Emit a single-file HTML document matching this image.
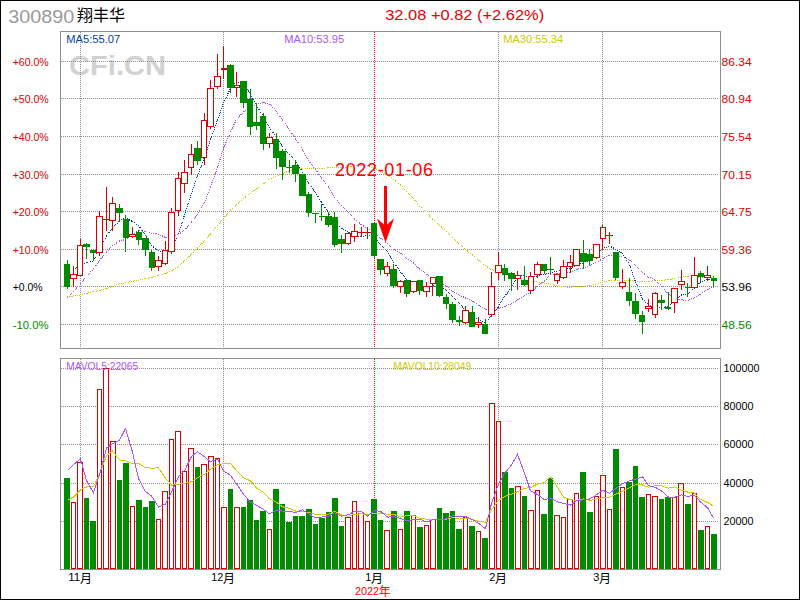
<!DOCTYPE html>
<html><head><meta charset="utf-8"><title>chart</title><style>html,body{margin:0;padding:0;background:#fff}body{width:800px;height:600px;overflow:hidden;font-family:"Liberation Sans",sans-serif}svg text{font-family:"Liberation Sans","Noto Sans CJK SC",sans-serif}</style></head><body>
<svg width="800" height="600" viewBox="0 0 800 600" style="display:block">
<rect width="800" height="600" fill="#fff"/>
<g shape-rendering="crispEdges">
<rect x="0.5" y="0.5" width="799" height="599" fill="none" stroke="#000"/>
</g>
<text x="69" y="75" font-size="28" font-weight="bold" fill="#d2d2d2" textLength="97" lengthAdjust="spacingAndGlyphs">CFi.CN</text>
<g shape-rendering="crispEdges">
<line x1="61" y1="61.5" x2="719" y2="61.5" stroke="#909090" stroke-dasharray="1 1"/>
<line x1="61" y1="98.5" x2="719" y2="98.5" stroke="#909090" stroke-dasharray="1 1"/>
<line x1="61" y1="136.5" x2="719" y2="136.5" stroke="#909090" stroke-dasharray="1 1"/>
<line x1="61" y1="174.5" x2="719" y2="174.5" stroke="#909090" stroke-dasharray="1 1"/>
<line x1="61" y1="211.5" x2="719" y2="211.5" stroke="#909090" stroke-dasharray="1 1"/>
<line x1="61" y1="249.5" x2="719" y2="249.5" stroke="#909090" stroke-dasharray="1 1"/>
<line x1="61" y1="286.5" x2="719" y2="286.5" stroke="#909090" stroke-dasharray="1 1"/>
<line x1="61" y1="324.5" x2="719" y2="324.5" stroke="#909090" stroke-dasharray="1 1"/>
<line x1="61" y1="368.5" x2="719" y2="368.5" stroke="#909090" stroke-dasharray="1 1"/>
<line x1="61" y1="406.5" x2="719" y2="406.5" stroke="#909090" stroke-dasharray="1 1"/>
<line x1="61" y1="444.5" x2="719" y2="444.5" stroke="#909090" stroke-dasharray="1 1"/>
<line x1="61" y1="483.5" x2="719" y2="483.5" stroke="#909090" stroke-dasharray="1 1"/>
<line x1="61" y1="521.5" x2="719" y2="521.5" stroke="#909090" stroke-dasharray="1 1"/>
<line x1="80.5" y1="32" x2="80.5" y2="348" stroke="#909090" stroke-dasharray="1 1"/>
<line x1="80.5" y1="359" x2="80.5" y2="569" stroke="#909090" stroke-dasharray="1 1"/>
<line x1="223.5" y1="32" x2="223.5" y2="348" stroke="#909090" stroke-dasharray="1 1"/>
<line x1="223.5" y1="359" x2="223.5" y2="569" stroke="#909090" stroke-dasharray="1 1"/>
<line x1="498.5" y1="32" x2="498.5" y2="348" stroke="#909090" stroke-dasharray="1 1"/>
<line x1="498.5" y1="359" x2="498.5" y2="569" stroke="#909090" stroke-dasharray="1 1"/>
<line x1="602.5" y1="32" x2="602.5" y2="348" stroke="#909090" stroke-dasharray="1 1"/>
<line x1="602.5" y1="359" x2="602.5" y2="569" stroke="#909090" stroke-dasharray="1 1"/>
<line x1="374.5" y1="32" x2="374.5" y2="348" stroke="#ff0000" stroke-dasharray="1 1"/>
<line x1="374.5" y1="359" x2="374.5" y2="569" stroke="#ff0000" stroke-dasharray="1 1"/>
<rect x="60.5" y="31.5" width="660" height="317" fill="none" stroke="#909090"/>
<rect x="60.5" y="358.5" width="660" height="211" fill="none" stroke="#909090"/>
<path d="M67.5 296.8L73.5 295.9M73.5 295.9L80.5 294.9M80.5 294.9L86.5 293.3M86.5 293.3L93.5 291.6M93.5 291.6L99.5 290.4M99.5 290.4L106.5 288.6M106.5 288.6L112.5 286.2M112.5 286.2L119.5 283.9M119.5 283.9L125.5 282.6M125.5 282.6L132.5 281.2M132.5 281.2L138.5 280.1M138.5 280.1L145.5 278.6M145.5 278.6L151.5 277.4M151.5 277.4L158.5 275.7M158.5 275.7L165.5 273.6M165.5 273.6L171.5 270.6M171.5 270.6L178.5 266.4M178.5 266.4L184.5 261.0M184.5 261.0L191.5 254.0M191.5 254.0L197.5 248.0M197.5 248.0L204.5 241.0M204.5 241.0L210.5 233.9M210.5 233.9L217.5 225.5M217.5 225.5L223.5 218.3M223.5 218.3L230.5 210.1M230.5 210.1L236.5 204.7M236.5 204.7L243.5 198.5M243.5 198.5L250.5 193.2M250.5 193.2L256.5 188.6M256.5 188.6L263.5 183.8M263.5 183.8L269.5 179.2M269.5 179.2L276.5 176.3M276.5 176.3L282.5 173.6M282.5 173.6L289.5 170.8M289.5 170.8L295.5 169.4M295.5 169.4L302.5 168.6M302.5 168.6L308.5 168.9M308.5 168.9L315.5 168.9M315.5 168.9L321.5 168.2M321.5 168.2L328.5 167.9M328.5 167.9L334.5 168.0M334.5 168.0L341.5 167.8M341.5 167.8L348.5 166.7M348.5 166.7L354.5 165.7M354.5 165.7L361.5 165.1M361.5 165.1L367.5 165.8M367.5 165.8L374.5 168.4M374.5 168.4L380.5 171.6M380.5 171.6L387.5 175.3M387.5 175.3L393.5 179.5M393.5 179.5L400.5 184.9M400.5 184.9L406.5 191.7M406.5 191.7L413.5 198.5M413.5 198.5L419.5 205.9M419.5 205.9L426.5 212.6M426.5 212.6L432.5 219.0M432.5 219.0L439.5 225.4M439.5 225.4L446.5 231.3M446.5 231.3L452.5 237.8M452.5 237.8L459.5 243.7M459.5 243.7L465.5 249.5M465.5 249.5L472.5 255.1M472.5 255.1L478.5 260.3M478.5 260.3L485.5 265.8M485.5 265.8L491.5 269.6M491.5 269.6L498.5 271.9M498.5 271.9L504.5 274.0M504.5 274.0L511.5 276.2M511.5 276.2L517.5 278.1M517.5 278.1L524.5 280.1M524.5 280.1L530.5 281.2M530.5 281.2L537.5 281.9M537.5 281.9L544.5 283.1M544.5 283.1L550.5 284.4M550.5 284.4L557.5 285.8M557.5 285.8L563.5 286.9M563.5 286.9L570.5 287.2M570.5 287.2L576.5 286.5M576.5 286.5L583.5 286.3M583.5 286.3L589.5 285.5M589.5 285.5L596.5 284.3M596.5 284.3L602.5 282.1M602.5 282.1L609.5 280.5M609.5 280.5L615.5 280.1M615.5 280.1L622.5 280.0M622.5 280.0L629.5 280.7M629.5 280.7L635.5 281.3M635.5 281.3L642.5 281.9M642.5 281.9L648.5 281.5M648.5 281.5L655.5 280.6M655.5 280.6L661.5 280.3M661.5 280.3L668.5 279.7M668.5 279.7L674.5 278.6M674.5 278.6L681.5 276.8M681.5 276.8L687.5 276.9M687.5 276.9L694.5 277.2M694.5 277.2L700.5 277.3M700.5 277.3L707.5 277.2M707.5 277.2L713.5 277.3" stroke="#cccc00" fill="none" stroke-dasharray="1 1"/>
<path d="M67.5 298.0L73.5 291.5M73.5 291.5L80.5 283.5M80.5 283.5L86.5 276.5M86.5 276.5L93.5 269.0M93.5 269.0L99.5 260.5M99.5 260.5L106.5 252.0M106.5 252.0L112.5 245.5M112.5 245.5L119.5 241.0M119.5 241.0L125.5 239.5M125.5 239.5L132.5 234.3M132.5 234.3L138.5 230.8M138.5 230.8L145.5 231.2M145.5 231.2L151.5 233.3M151.5 233.3L158.5 234.1M158.5 234.1L165.5 237.5M165.5 237.5L171.5 236.8M171.5 236.8L178.5 234.3M178.5 234.3L184.5 230.3M184.5 230.3L191.5 222.0M191.5 222.0L197.5 214.6M197.5 214.6L204.5 202.7M204.5 202.7L210.5 186.6M210.5 186.6L217.5 167.5M217.5 167.5L223.5 148.3M223.5 148.3L230.5 132.0M230.5 132.0L236.5 119.3M236.5 119.3L243.5 111.7M243.5 111.7L250.5 107.1M250.5 107.1L256.5 104.2M256.5 104.2L263.5 102.5M263.5 102.5L269.5 104.2M269.5 104.2L276.5 111.1M276.5 111.1L282.5 120.1M282.5 120.1L289.5 130.0M289.5 130.0L295.5 138.6M295.5 138.6L302.5 149.6M302.5 149.6L308.5 160.6M308.5 160.6L315.5 169.3M315.5 169.3L321.5 178.4M321.5 178.4L328.5 186.5M328.5 186.5L334.5 197.2M334.5 197.2L341.5 205.8M341.5 205.8L348.5 212.5M348.5 212.5L354.5 218.9M354.5 218.9L361.5 224.8M361.5 224.8L367.5 228.5M367.5 228.5L374.5 232.8M374.5 232.8L380.5 238.4M380.5 238.4L387.5 243.4M387.5 243.4L393.5 249.5M393.5 249.5L400.5 253.2M400.5 253.2L406.5 258.2M406.5 258.2L413.5 263.0M413.5 263.0L419.5 268.9M419.5 268.9L426.5 274.3M426.5 274.3L432.5 278.8M432.5 278.8L439.5 282.8M439.5 282.8L446.5 286.2M446.5 286.2L452.5 291.5M452.5 291.5L459.5 295.1M459.5 295.1L465.5 298.0M465.5 298.0L472.5 301.3M472.5 301.3L478.5 305.4M478.5 305.4L485.5 309.7M485.5 309.7L491.5 309.7M491.5 309.7L498.5 308.5M498.5 308.5L504.5 306.4M504.5 306.4L511.5 303.9M511.5 303.9L517.5 299.5M517.5 299.5L524.5 295.8M524.5 295.8L530.5 292.4M530.5 292.4L537.5 286.2M537.5 286.2L544.5 281.0M544.5 281.0L550.5 274.6M550.5 274.6L557.5 273.4M557.5 273.4L563.5 273.5M563.5 273.5L570.5 272.3M570.5 272.3L576.5 269.4M576.5 269.4L583.5 268.0M583.5 268.0L589.5 265.6M589.5 265.6L596.5 262.4M596.5 262.4L602.5 258.7M602.5 258.7L609.5 255.2M609.5 255.2L615.5 256.0M615.5 256.0L622.5 256.8M622.5 256.8L629.5 260.2M629.5 260.2L635.5 265.3M635.5 265.3L642.5 272.5M642.5 272.5L648.5 277.0M648.5 277.0L655.5 280.3M655.5 280.3L661.5 286.1M661.5 286.1L668.5 294.2M668.5 294.2L674.5 299.5M674.5 299.5L681.5 299.9M681.5 299.9L687.5 300.4M687.5 300.4L694.5 297.9M694.5 297.9L700.5 294.2M700.5 294.2L707.5 289.6M707.5 289.6L713.5 287.0" stroke="#aa55ff" fill="none" stroke-dasharray="1 1"/>
<path d="M73.5 270.5L80.5 264.5M80.5 264.5L86.5 262.5M86.5 262.5L93.5 261.1M93.5 261.1L99.5 247.1M99.5 247.1L106.5 236.1M106.5 236.1L112.5 227.7M112.5 227.7L119.5 220.9M119.5 220.9L125.5 217.9M125.5 217.9L132.5 221.5M132.5 221.5L138.5 225.5M138.5 225.5L145.5 234.7M145.5 234.7L151.5 245.7M151.5 245.7L158.5 250.3M158.5 250.3L165.5 253.5M165.5 253.5L171.5 248.1M171.5 248.1L178.5 233.9M178.5 233.9L184.5 214.9M184.5 214.9L191.5 193.7M191.5 193.7L197.5 175.7M197.5 175.7L204.5 157.3M204.5 157.3L210.5 139.3M210.5 139.3L217.5 120.1M217.5 120.1L223.5 102.9M223.5 102.9L230.5 88.3M230.5 88.3L236.5 81.3M236.5 81.3L243.5 84.1M243.5 84.1L250.5 94.1M250.5 94.1L256.5 105.5M256.5 105.5L263.5 116.7M263.5 116.7L269.5 127.1M269.5 127.1L276.5 138.1M276.5 138.1L282.5 146.1M282.5 146.1L289.5 154.5M289.5 154.5L295.5 160.5M295.5 160.5L302.5 172.1M302.5 172.1L308.5 183.1M308.5 183.1L315.5 192.5M315.5 192.5L321.5 202.3M321.5 202.3L328.5 212.5M328.5 212.5L334.5 222.3M334.5 222.3L341.5 228.5M341.5 228.5L348.5 232.5M348.5 232.5L354.5 235.5M354.5 235.5L361.5 237.1M361.5 237.1L367.5 234.7M367.5 234.7L374.5 237.1M374.5 237.1L380.5 244.3M380.5 244.3L387.5 251.3M387.5 251.3L393.5 261.9M393.5 261.9L400.5 271.7M400.5 271.7L406.5 279.3M406.5 279.3L413.5 281.7M413.5 281.7L419.5 286.5M419.5 286.5L426.5 286.7M426.5 286.7L432.5 285.9M432.5 285.9L439.5 286.3M439.5 286.3L446.5 290.7M446.5 290.7L452.5 296.5M452.5 296.5L459.5 303.5M459.5 303.5L465.5 310.1M465.5 310.1L472.5 316.3M472.5 316.3L478.5 320.1M478.5 320.1L485.5 322.9M485.5 322.9L491.5 315.9M491.5 315.9L498.5 306.9M498.5 306.9L504.5 296.5M504.5 296.5L511.5 287.7M511.5 287.7L517.5 276.1M517.5 276.1L524.5 275.7M524.5 275.7L530.5 277.9M530.5 277.9L537.5 275.9M537.5 275.9L544.5 274.3M544.5 274.3L550.5 273.1M550.5 273.1L557.5 271.1M557.5 271.1L563.5 269.1M563.5 269.1L570.5 268.7M570.5 268.7L576.5 264.5M576.5 264.5L583.5 262.9M583.5 262.9L589.5 260.1M589.5 260.1L596.5 255.7M596.5 255.7L602.5 248.7M602.5 248.7L609.5 245.9M609.5 245.9L615.5 249.1M615.5 249.1L622.5 253.5M622.5 253.5L629.5 264.7M629.5 264.7L635.5 281.9M635.5 281.9L642.5 299.1M642.5 299.1L648.5 304.9M648.5 304.9L655.5 307.1M655.5 307.1L661.5 307.5M661.5 307.5L668.5 306.5M668.5 306.5L674.5 299.9M674.5 299.9L681.5 294.9M681.5 294.9L687.5 293.7M687.5 293.7L694.5 288.3M694.5 288.3L700.5 281.9M700.5 281.9L707.5 279.3M707.5 279.3L713.5 279.1" stroke="#0044a0" fill="none" stroke-dasharray="1 1"/>
<rect x="67" y="260" width="1" height="29" fill="#008a00"/>
<rect x="64" y="264" width="6" height="23" fill="#008a00"/>
<rect x="73" y="266" width="1" height="8" fill="#d80000"/>
<rect x="73" y="279" width="1" height="8" fill="#d80000"/>
<rect x="70" y="274" width="7" height="5" fill="#d80000"/>
<rect x="71" y="275" width="5" height="3" fill="#fff"/>
<rect x="80" y="239" width="1" height="6" fill="#d80000"/>
<rect x="77" y="245" width="6" height="31" fill="#d80000"/>
<rect x="78" y="246" width="4" height="29" fill="#fff"/>
<rect x="86" y="243" width="1" height="16" fill="#008a00"/>
<rect x="83" y="244" width="7" height="3" fill="#008a00"/>
<rect x="93" y="250" width="1" height="11" fill="#008a00"/>
<rect x="90" y="250" width="6" height="3" fill="#008a00"/>
<rect x="99" y="211" width="1" height="5" fill="#d80000"/>
<rect x="99" y="253" width="1" height="3" fill="#d80000"/>
<rect x="96" y="216" width="7" height="37" fill="#d80000"/>
<rect x="97" y="217" width="5" height="35" fill="#fff"/>
<rect x="106" y="187" width="1" height="32" fill="#d80000"/>
<rect x="106" y="220" width="1" height="11" fill="#d80000"/>
<rect x="103" y="219" width="6" height="1" fill="#d80000"/>
<rect x="112" y="197" width="1" height="6" fill="#d80000"/>
<rect x="112" y="221" width="1" height="10" fill="#d80000"/>
<rect x="109" y="203" width="7" height="18" fill="#d80000"/>
<rect x="110" y="204" width="5" height="16" fill="#fff"/>
<rect x="119" y="204" width="1" height="18" fill="#008a00"/>
<rect x="116" y="208" width="7" height="5" fill="#008a00"/>
<rect x="125" y="215" width="1" height="37" fill="#008a00"/>
<rect x="123" y="219" width="6" height="19" fill="#008a00"/>
<rect x="132" y="227" width="1" height="7" fill="#d80000"/>
<rect x="132" y="237" width="1" height="1" fill="#d80000"/>
<rect x="129" y="234" width="7" height="3" fill="#d80000"/>
<rect x="130" y="235" width="5" height="1" fill="#fff"/>
<rect x="138" y="230" width="1" height="15" fill="#008a00"/>
<rect x="136" y="232" width="6" height="8" fill="#008a00"/>
<rect x="145" y="238" width="1" height="18" fill="#008a00"/>
<rect x="142" y="238" width="7" height="12" fill="#008a00"/>
<rect x="151" y="250" width="1" height="21" fill="#008a00"/>
<rect x="149" y="252" width="6" height="16" fill="#008a00"/>
<rect x="158" y="256" width="1" height="4" fill="#d80000"/>
<rect x="158" y="267" width="1" height="4" fill="#d80000"/>
<rect x="155" y="260" width="7" height="7" fill="#d80000"/>
<rect x="156" y="261" width="5" height="5" fill="#fff"/>
<rect x="165" y="241" width="1" height="9" fill="#d80000"/>
<rect x="165" y="264" width="1" height="1" fill="#d80000"/>
<rect x="162" y="250" width="6" height="14" fill="#d80000"/>
<rect x="163" y="251" width="4" height="12" fill="#fff"/>
<rect x="171" y="208" width="1" height="4" fill="#d80000"/>
<rect x="171" y="252" width="1" height="2" fill="#d80000"/>
<rect x="168" y="212" width="7" height="40" fill="#d80000"/>
<rect x="169" y="213" width="5" height="38" fill="#fff"/>
<rect x="178" y="172" width="1" height="6" fill="#d80000"/>
<rect x="178" y="211" width="1" height="5" fill="#d80000"/>
<rect x="175" y="178" width="6" height="33" fill="#d80000"/>
<rect x="176" y="179" width="4" height="31" fill="#fff"/>
<rect x="184" y="160" width="1" height="12" fill="#d80000"/>
<rect x="184" y="184" width="1" height="9" fill="#d80000"/>
<rect x="181" y="172" width="7" height="12" fill="#d80000"/>
<rect x="182" y="173" width="5" height="10" fill="#fff"/>
<rect x="191" y="144" width="1" height="10" fill="#d80000"/>
<rect x="191" y="168" width="1" height="7" fill="#d80000"/>
<rect x="188" y="154" width="6" height="14" fill="#d80000"/>
<rect x="189" y="155" width="4" height="12" fill="#fff"/>
<rect x="197" y="141" width="1" height="24" fill="#008a00"/>
<rect x="194" y="148" width="7" height="13" fill="#008a00"/>
<rect x="204" y="113" width="1" height="7" fill="#d80000"/>
<rect x="204" y="158" width="1" height="7" fill="#d80000"/>
<rect x="201" y="120" width="6" height="38" fill="#d80000"/>
<rect x="202" y="121" width="4" height="36" fill="#fff"/>
<rect x="210" y="80" width="1" height="8" fill="#d80000"/>
<rect x="210" y="127" width="1" height="2" fill="#d80000"/>
<rect x="207" y="88" width="7" height="39" fill="#d80000"/>
<rect x="208" y="89" width="5" height="37" fill="#fff"/>
<rect x="217" y="54" width="1" height="22" fill="#d80000"/>
<rect x="217" y="87" width="1" height="2" fill="#d80000"/>
<rect x="214" y="76" width="7" height="11" fill="#d80000"/>
<rect x="215" y="77" width="5" height="9" fill="#fff"/>
<rect x="223" y="46" width="1" height="22" fill="#d80000"/>
<rect x="223" y="70" width="1" height="9" fill="#d80000"/>
<rect x="221" y="68" width="6" height="2" fill="#d80000"/>
<rect x="230" y="64" width="1" height="29" fill="#008a00"/>
<rect x="227" y="65" width="7" height="23" fill="#008a00"/>
<rect x="236" y="72" width="1" height="13" fill="#d80000"/>
<rect x="236" y="88" width="1" height="9" fill="#d80000"/>
<rect x="234" y="85" width="6" height="3" fill="#d80000"/>
<rect x="235" y="86" width="4" height="1" fill="#fff"/>
<rect x="243" y="81" width="1" height="27" fill="#008a00"/>
<rect x="240" y="81" width="7" height="22" fill="#008a00"/>
<rect x="250" y="89" width="1" height="46" fill="#008a00"/>
<rect x="247" y="99" width="6" height="28" fill="#008a00"/>
<rect x="256" y="103" width="1" height="27" fill="#008a00"/>
<rect x="253" y="122" width="7" height="4" fill="#008a00"/>
<rect x="263" y="113" width="1" height="37" fill="#008a00"/>
<rect x="260" y="116" width="6" height="28" fill="#008a00"/>
<rect x="269" y="133" width="1" height="4" fill="#d80000"/>
<rect x="269" y="144" width="1" height="4" fill="#d80000"/>
<rect x="266" y="137" width="7" height="7" fill="#d80000"/>
<rect x="267" y="138" width="5" height="5" fill="#fff"/>
<rect x="276" y="133" width="1" height="36" fill="#008a00"/>
<rect x="273" y="139" width="6" height="19" fill="#008a00"/>
<rect x="282" y="149" width="1" height="31" fill="#008a00"/>
<rect x="279" y="151" width="7" height="16" fill="#008a00"/>
<rect x="289" y="160" width="1" height="13" fill="#008a00"/>
<rect x="286" y="167" width="6" height="1" fill="#008a00"/>
<rect x="295" y="160" width="1" height="22" fill="#008a00"/>
<rect x="292" y="165" width="7" height="9" fill="#008a00"/>
<rect x="302" y="174" width="1" height="22" fill="#008a00"/>
<rect x="299" y="174" width="7" height="22" fill="#008a00"/>
<rect x="308" y="192" width="1" height="25" fill="#008a00"/>
<rect x="306" y="194" width="6" height="19" fill="#008a00"/>
<rect x="315" y="213" width="1" height="10" fill="#008a00"/>
<rect x="312" y="213" width="7" height="1" fill="#008a00"/>
<rect x="321" y="204" width="1" height="17" fill="#008a00"/>
<rect x="319" y="216" width="6" height="1" fill="#008a00"/>
<rect x="328" y="212" width="1" height="15" fill="#008a00"/>
<rect x="325" y="216" width="7" height="9" fill="#008a00"/>
<rect x="334" y="212" width="1" height="35" fill="#008a00"/>
<rect x="332" y="217" width="6" height="28" fill="#008a00"/>
<rect x="341" y="235" width="1" height="18" fill="#008a00"/>
<rect x="338" y="239" width="7" height="5" fill="#008a00"/>
<rect x="348" y="244" width="1" height="1" fill="#d80000"/>
<rect x="345" y="233" width="6" height="11" fill="#d80000"/>
<rect x="346" y="234" width="4" height="9" fill="#fff"/>
<rect x="354" y="224" width="1" height="7" fill="#d80000"/>
<rect x="354" y="237" width="1" height="5" fill="#d80000"/>
<rect x="351" y="231" width="7" height="6" fill="#d80000"/>
<rect x="352" y="232" width="5" height="4" fill="#fff"/>
<rect x="361" y="227" width="1" height="5" fill="#d80000"/>
<rect x="361" y="233" width="1" height="4" fill="#d80000"/>
<rect x="358" y="232" width="6" height="1" fill="#d80000"/>
<rect x="367" y="227" width="1" height="5" fill="#d80000"/>
<rect x="367" y="233" width="1" height="6" fill="#d80000"/>
<rect x="364" y="232" width="7" height="1" fill="#d80000"/>
<rect x="374" y="223" width="1" height="35" fill="#008a00"/>
<rect x="371" y="223" width="6" height="33" fill="#008a00"/>
<rect x="380" y="259" width="1" height="16" fill="#008a00"/>
<rect x="377" y="259" width="7" height="11" fill="#008a00"/>
<rect x="387" y="262" width="1" height="4" fill="#d80000"/>
<rect x="387" y="274" width="1" height="2" fill="#d80000"/>
<rect x="384" y="266" width="6" height="8" fill="#d80000"/>
<rect x="385" y="267" width="4" height="6" fill="#fff"/>
<rect x="393" y="264" width="1" height="24" fill="#008a00"/>
<rect x="390" y="269" width="7" height="17" fill="#008a00"/>
<rect x="400" y="280" width="1" height="1" fill="#d80000"/>
<rect x="400" y="287" width="1" height="6" fill="#d80000"/>
<rect x="397" y="281" width="7" height="6" fill="#d80000"/>
<rect x="398" y="282" width="5" height="4" fill="#fff"/>
<rect x="406" y="280" width="1" height="17" fill="#008a00"/>
<rect x="404" y="280" width="6" height="14" fill="#008a00"/>
<rect x="413" y="292" width="1" height="1" fill="#d80000"/>
<rect x="410" y="281" width="7" height="11" fill="#d80000"/>
<rect x="411" y="282" width="5" height="9" fill="#fff"/>
<rect x="419" y="280" width="1" height="15" fill="#008a00"/>
<rect x="417" y="280" width="6" height="11" fill="#008a00"/>
<rect x="426" y="282" width="1" height="4" fill="#d80000"/>
<rect x="426" y="292" width="1" height="5" fill="#d80000"/>
<rect x="423" y="286" width="7" height="6" fill="#d80000"/>
<rect x="424" y="287" width="5" height="4" fill="#fff"/>
<rect x="432" y="284" width="1" height="12" fill="#d80000"/>
<rect x="430" y="277" width="6" height="7" fill="#d80000"/>
<rect x="431" y="278" width="4" height="5" fill="#fff"/>
<rect x="439" y="276" width="1" height="21" fill="#008a00"/>
<rect x="436" y="276" width="7" height="20" fill="#008a00"/>
<rect x="446" y="294" width="1" height="15" fill="#008a00"/>
<rect x="443" y="297" width="6" height="7" fill="#008a00"/>
<rect x="452" y="302" width="1" height="21" fill="#008a00"/>
<rect x="449" y="304" width="7" height="16" fill="#008a00"/>
<rect x="459" y="316" width="1" height="10" fill="#008a00"/>
<rect x="456" y="320" width="6" height="2" fill="#008a00"/>
<rect x="465" y="306" width="1" height="4" fill="#d80000"/>
<rect x="465" y="323" width="1" height="1" fill="#d80000"/>
<rect x="462" y="310" width="7" height="13" fill="#d80000"/>
<rect x="463" y="311" width="5" height="11" fill="#fff"/>
<rect x="472" y="306" width="1" height="21" fill="#008a00"/>
<rect x="469" y="312" width="6" height="15" fill="#008a00"/>
<rect x="478" y="317" width="1" height="5" fill="#d80000"/>
<rect x="478" y="325" width="1" height="3" fill="#d80000"/>
<rect x="475" y="322" width="7" height="3" fill="#d80000"/>
<rect x="476" y="323" width="5" height="1" fill="#fff"/>
<rect x="485" y="319" width="1" height="15" fill="#008a00"/>
<rect x="482" y="324" width="6" height="10" fill="#008a00"/>
<rect x="491" y="272" width="1" height="14" fill="#d80000"/>
<rect x="491" y="315" width="1" height="1" fill="#d80000"/>
<rect x="488" y="286" width="7" height="29" fill="#d80000"/>
<rect x="489" y="287" width="5" height="27" fill="#fff"/>
<rect x="498" y="252" width="1" height="13" fill="#d80000"/>
<rect x="498" y="273" width="1" height="7" fill="#d80000"/>
<rect x="495" y="265" width="7" height="8" fill="#d80000"/>
<rect x="496" y="266" width="5" height="6" fill="#fff"/>
<rect x="504" y="264" width="1" height="17" fill="#008a00"/>
<rect x="502" y="268" width="6" height="7" fill="#008a00"/>
<rect x="511" y="272" width="1" height="19" fill="#008a00"/>
<rect x="508" y="273" width="7" height="6" fill="#008a00"/>
<rect x="517" y="271" width="1" height="4" fill="#d80000"/>
<rect x="517" y="279" width="1" height="11" fill="#d80000"/>
<rect x="515" y="275" width="6" height="4" fill="#d80000"/>
<rect x="516" y="276" width="4" height="2" fill="#fff"/>
<rect x="524" y="266" width="1" height="20" fill="#008a00"/>
<rect x="521" y="280" width="7" height="5" fill="#008a00"/>
<rect x="530" y="272" width="1" height="4" fill="#d80000"/>
<rect x="530" y="291" width="1" height="3" fill="#d80000"/>
<rect x="528" y="276" width="6" height="15" fill="#d80000"/>
<rect x="529" y="277" width="4" height="13" fill="#fff"/>
<rect x="537" y="262" width="1" height="2" fill="#d80000"/>
<rect x="537" y="275" width="1" height="3" fill="#d80000"/>
<rect x="534" y="264" width="7" height="11" fill="#d80000"/>
<rect x="535" y="265" width="5" height="9" fill="#fff"/>
<rect x="544" y="264" width="1" height="10" fill="#008a00"/>
<rect x="541" y="264" width="6" height="7" fill="#008a00"/>
<rect x="550" y="257" width="1" height="17" fill="#008a00"/>
<rect x="547" y="269" width="7" height="1" fill="#008a00"/>
<rect x="557" y="281" width="1" height="3" fill="#d80000"/>
<rect x="554" y="274" width="6" height="7" fill="#d80000"/>
<rect x="555" y="275" width="4" height="5" fill="#fff"/>
<rect x="563" y="260" width="1" height="6" fill="#d80000"/>
<rect x="563" y="278" width="1" height="1" fill="#d80000"/>
<rect x="560" y="266" width="7" height="12" fill="#d80000"/>
<rect x="561" y="267" width="5" height="10" fill="#fff"/>
<rect x="570" y="255" width="1" height="7" fill="#d80000"/>
<rect x="570" y="267" width="1" height="6" fill="#d80000"/>
<rect x="567" y="262" width="6" height="5" fill="#d80000"/>
<rect x="568" y="263" width="4" height="3" fill="#fff"/>
<rect x="573" y="249" width="7" height="17" fill="#d80000"/>
<rect x="574" y="250" width="5" height="15" fill="#fff"/>
<rect x="583" y="240" width="1" height="29" fill="#008a00"/>
<rect x="580" y="253" width="7" height="9" fill="#008a00"/>
<rect x="589" y="249" width="1" height="16" fill="#008a00"/>
<rect x="587" y="254" width="6" height="7" fill="#008a00"/>
<rect x="596" y="258" width="1" height="1" fill="#d80000"/>
<rect x="593" y="244" width="7" height="14" fill="#d80000"/>
<rect x="594" y="245" width="5" height="12" fill="#fff"/>
<rect x="602" y="225" width="1" height="2" fill="#d80000"/>
<rect x="602" y="239" width="1" height="11" fill="#d80000"/>
<rect x="600" y="227" width="6" height="12" fill="#d80000"/>
<rect x="601" y="228" width="4" height="10" fill="#fff"/>
<rect x="609" y="232" width="1" height="3" fill="#d80000"/>
<rect x="609" y="236" width="1" height="8" fill="#d80000"/>
<rect x="606" y="235" width="7" height="1" fill="#d80000"/>
<rect x="615" y="252" width="1" height="28" fill="#008a00"/>
<rect x="613" y="252" width="6" height="26" fill="#008a00"/>
<rect x="622" y="269" width="1" height="13" fill="#d80000"/>
<rect x="622" y="287" width="1" height="2" fill="#d80000"/>
<rect x="619" y="282" width="7" height="5" fill="#d80000"/>
<rect x="620" y="283" width="5" height="3" fill="#fff"/>
<rect x="629" y="278" width="1" height="28" fill="#008a00"/>
<rect x="626" y="292" width="6" height="9" fill="#008a00"/>
<rect x="635" y="293" width="1" height="26" fill="#008a00"/>
<rect x="632" y="301" width="7" height="13" fill="#008a00"/>
<rect x="642" y="311" width="1" height="23" fill="#008a00"/>
<rect x="639" y="315" width="6" height="7" fill="#008a00"/>
<rect x="648" y="299" width="1" height="7" fill="#d80000"/>
<rect x="648" y="309" width="1" height="3" fill="#d80000"/>
<rect x="645" y="306" width="7" height="3" fill="#d80000"/>
<rect x="646" y="307" width="5" height="1" fill="#fff"/>
<rect x="655" y="292" width="1" height="1" fill="#d80000"/>
<rect x="655" y="315" width="1" height="3" fill="#d80000"/>
<rect x="652" y="293" width="6" height="22" fill="#d80000"/>
<rect x="653" y="294" width="4" height="20" fill="#fff"/>
<rect x="661" y="295" width="1" height="15" fill="#008a00"/>
<rect x="658" y="300" width="7" height="3" fill="#008a00"/>
<rect x="668" y="292" width="1" height="18" fill="#008a00"/>
<rect x="665" y="307" width="6" height="2" fill="#008a00"/>
<rect x="674" y="303" width="1" height="10" fill="#d80000"/>
<rect x="671" y="288" width="7" height="15" fill="#d80000"/>
<rect x="672" y="289" width="5" height="13" fill="#fff"/>
<rect x="681" y="270" width="1" height="11" fill="#d80000"/>
<rect x="681" y="285" width="1" height="5" fill="#d80000"/>
<rect x="678" y="281" width="7" height="4" fill="#d80000"/>
<rect x="679" y="282" width="5" height="2" fill="#fff"/>
<rect x="687" y="283" width="1" height="14" fill="#008a00"/>
<rect x="685" y="287" width="6" height="1" fill="#008a00"/>
<rect x="694" y="257" width="1" height="18" fill="#d80000"/>
<rect x="691" y="275" width="7" height="13" fill="#d80000"/>
<rect x="692" y="276" width="5" height="11" fill="#fff"/>
<rect x="700" y="271" width="1" height="10" fill="#008a00"/>
<rect x="698" y="273" width="6" height="4" fill="#008a00"/>
<rect x="707" y="266" width="1" height="9" fill="#d80000"/>
<rect x="707" y="278" width="1" height="3" fill="#d80000"/>
<rect x="704" y="275" width="7" height="3" fill="#d80000"/>
<rect x="705" y="276" width="5" height="1" fill="#fff"/>
<rect x="713" y="276" width="1" height="11" fill="#008a00"/>
<rect x="711" y="278" width="6" height="3" fill="#008a00"/>
<rect x="64" y="478" width="6" height="91" fill="#008a00"/>
<rect x="71" y="502" width="5" height="67" fill="#d80000"/>
<rect x="72" y="503" width="3" height="65" fill="#fff"/>
<rect x="77" y="462" width="6" height="107" fill="#d80000"/>
<rect x="78" y="463" width="4" height="105" fill="#fff"/>
<rect x="84" y="498" width="5" height="71" fill="#008a00"/>
<rect x="90" y="521" width="6" height="48" fill="#008a00"/>
<rect x="97" y="389" width="5" height="180" fill="#d80000"/>
<rect x="98" y="390" width="3" height="178" fill="#fff"/>
<rect x="103" y="368" width="6" height="201" fill="#d80000"/>
<rect x="104" y="369" width="4" height="199" fill="#fff"/>
<rect x="110" y="441" width="6" height="128" fill="#d80000"/>
<rect x="111" y="442" width="4" height="126" fill="#fff"/>
<rect x="117" y="480" width="5" height="89" fill="#008a00"/>
<rect x="123" y="463" width="6" height="106" fill="#008a00"/>
<rect x="130" y="506" width="5" height="63" fill="#d80000"/>
<rect x="131" y="507" width="3" height="61" fill="#fff"/>
<rect x="136" y="500" width="6" height="69" fill="#008a00"/>
<rect x="143" y="507" width="5" height="62" fill="#008a00"/>
<rect x="149" y="501" width="6" height="68" fill="#008a00"/>
<rect x="156" y="519" width="5" height="50" fill="#d80000"/>
<rect x="157" y="520" width="3" height="48" fill="#fff"/>
<rect x="162" y="491" width="6" height="78" fill="#d80000"/>
<rect x="163" y="492" width="4" height="76" fill="#fff"/>
<rect x="169" y="439" width="5" height="130" fill="#d80000"/>
<rect x="170" y="440" width="3" height="128" fill="#fff"/>
<rect x="175" y="431" width="6" height="138" fill="#d80000"/>
<rect x="176" y="432" width="4" height="136" fill="#fff"/>
<rect x="182" y="471" width="5" height="98" fill="#d80000"/>
<rect x="183" y="472" width="3" height="96" fill="#fff"/>
<rect x="188" y="448" width="6" height="121" fill="#d80000"/>
<rect x="189" y="449" width="4" height="119" fill="#fff"/>
<rect x="195" y="467" width="5" height="102" fill="#008a00"/>
<rect x="201" y="464" width="6" height="105" fill="#d80000"/>
<rect x="202" y="465" width="4" height="103" fill="#fff"/>
<rect x="208" y="456" width="6" height="113" fill="#d80000"/>
<rect x="209" y="457" width="4" height="111" fill="#fff"/>
<rect x="215" y="458" width="5" height="111" fill="#d80000"/>
<rect x="216" y="459" width="3" height="109" fill="#fff"/>
<rect x="221" y="507" width="6" height="62" fill="#d80000"/>
<rect x="222" y="508" width="4" height="60" fill="#fff"/>
<rect x="228" y="489" width="5" height="80" fill="#008a00"/>
<rect x="234" y="507" width="6" height="62" fill="#d80000"/>
<rect x="235" y="508" width="4" height="60" fill="#fff"/>
<rect x="241" y="507" width="5" height="62" fill="#008a00"/>
<rect x="247" y="500" width="6" height="69" fill="#008a00"/>
<rect x="254" y="520" width="5" height="49" fill="#008a00"/>
<rect x="260" y="511" width="6" height="58" fill="#008a00"/>
<rect x="267" y="529" width="5" height="40" fill="#d80000"/>
<rect x="268" y="530" width="3" height="38" fill="#fff"/>
<rect x="273" y="489" width="6" height="80" fill="#008a00"/>
<rect x="280" y="504" width="5" height="65" fill="#008a00"/>
<rect x="286" y="522" width="6" height="47" fill="#008a00"/>
<rect x="293" y="516" width="5" height="53" fill="#008a00"/>
<rect x="299" y="516" width="6" height="53" fill="#008a00"/>
<rect x="306" y="509" width="6" height="60" fill="#008a00"/>
<rect x="313" y="524" width="5" height="45" fill="#008a00"/>
<rect x="319" y="518" width="6" height="51" fill="#008a00"/>
<rect x="326" y="512" width="5" height="57" fill="#008a00"/>
<rect x="332" y="498" width="6" height="71" fill="#008a00"/>
<rect x="339" y="526" width="5" height="43" fill="#008a00"/>
<rect x="345" y="517" width="6" height="52" fill="#d80000"/>
<rect x="346" y="518" width="4" height="50" fill="#fff"/>
<rect x="352" y="501" width="5" height="68" fill="#d80000"/>
<rect x="353" y="502" width="3" height="66" fill="#fff"/>
<rect x="358" y="513" width="6" height="56" fill="#d80000"/>
<rect x="359" y="514" width="4" height="54" fill="#fff"/>
<rect x="365" y="521" width="5" height="48" fill="#d80000"/>
<rect x="366" y="522" width="3" height="46" fill="#fff"/>
<rect x="371" y="499" width="6" height="70" fill="#008a00"/>
<rect x="378" y="520" width="5" height="49" fill="#008a00"/>
<rect x="384" y="530" width="6" height="39" fill="#d80000"/>
<rect x="385" y="531" width="4" height="37" fill="#fff"/>
<rect x="391" y="511" width="6" height="58" fill="#008a00"/>
<rect x="398" y="529" width="5" height="40" fill="#d80000"/>
<rect x="399" y="530" width="3" height="38" fill="#fff"/>
<rect x="404" y="511" width="6" height="58" fill="#008a00"/>
<rect x="411" y="515" width="5" height="54" fill="#d80000"/>
<rect x="412" y="516" width="3" height="52" fill="#fff"/>
<rect x="417" y="527" width="6" height="42" fill="#008a00"/>
<rect x="424" y="525" width="5" height="44" fill="#d80000"/>
<rect x="425" y="526" width="3" height="42" fill="#fff"/>
<rect x="430" y="519" width="6" height="50" fill="#d80000"/>
<rect x="431" y="520" width="4" height="48" fill="#fff"/>
<rect x="437" y="508" width="5" height="61" fill="#008a00"/>
<rect x="443" y="513" width="6" height="56" fill="#008a00"/>
<rect x="450" y="511" width="5" height="58" fill="#008a00"/>
<rect x="456" y="529" width="6" height="40" fill="#008a00"/>
<rect x="463" y="517" width="5" height="52" fill="#d80000"/>
<rect x="464" y="518" width="3" height="50" fill="#fff"/>
<rect x="469" y="526" width="6" height="43" fill="#008a00"/>
<rect x="476" y="531" width="5" height="38" fill="#d80000"/>
<rect x="477" y="532" width="3" height="36" fill="#fff"/>
<rect x="482" y="538" width="6" height="31" fill="#008a00"/>
<rect x="489" y="403" width="6" height="166" fill="#d80000"/>
<rect x="490" y="404" width="4" height="164" fill="#fff"/>
<rect x="496" y="421" width="5" height="148" fill="#d80000"/>
<rect x="497" y="422" width="3" height="146" fill="#fff"/>
<rect x="502" y="472" width="6" height="97" fill="#008a00"/>
<rect x="509" y="488" width="5" height="81" fill="#008a00"/>
<rect x="515" y="486" width="6" height="83" fill="#d80000"/>
<rect x="516" y="487" width="4" height="81" fill="#fff"/>
<rect x="522" y="496" width="5" height="73" fill="#008a00"/>
<rect x="528" y="510" width="6" height="59" fill="#d80000"/>
<rect x="529" y="511" width="4" height="57" fill="#fff"/>
<rect x="535" y="490" width="5" height="79" fill="#d80000"/>
<rect x="536" y="491" width="3" height="77" fill="#fff"/>
<rect x="541" y="514" width="6" height="55" fill="#008a00"/>
<rect x="548" y="478" width="5" height="91" fill="#008a00"/>
<rect x="554" y="515" width="6" height="54" fill="#d80000"/>
<rect x="555" y="516" width="4" height="52" fill="#fff"/>
<rect x="561" y="517" width="5" height="52" fill="#d80000"/>
<rect x="562" y="518" width="3" height="50" fill="#fff"/>
<rect x="567" y="499" width="6" height="70" fill="#d80000"/>
<rect x="568" y="500" width="4" height="68" fill="#fff"/>
<rect x="574" y="493" width="5" height="76" fill="#d80000"/>
<rect x="575" y="494" width="3" height="74" fill="#fff"/>
<rect x="580" y="472" width="6" height="97" fill="#008a00"/>
<rect x="587" y="512" width="6" height="57" fill="#008a00"/>
<rect x="594" y="496" width="5" height="73" fill="#d80000"/>
<rect x="595" y="497" width="3" height="71" fill="#fff"/>
<rect x="600" y="475" width="6" height="94" fill="#d80000"/>
<rect x="601" y="476" width="4" height="92" fill="#fff"/>
<rect x="607" y="509" width="5" height="60" fill="#d80000"/>
<rect x="608" y="510" width="3" height="58" fill="#fff"/>
<rect x="613" y="449" width="6" height="120" fill="#008a00"/>
<rect x="620" y="487" width="5" height="82" fill="#d80000"/>
<rect x="621" y="488" width="3" height="80" fill="#fff"/>
<rect x="626" y="482" width="6" height="87" fill="#008a00"/>
<rect x="633" y="466" width="5" height="103" fill="#008a00"/>
<rect x="639" y="497" width="6" height="72" fill="#008a00"/>
<rect x="646" y="494" width="5" height="75" fill="#d80000"/>
<rect x="647" y="495" width="3" height="73" fill="#fff"/>
<rect x="652" y="496" width="6" height="73" fill="#d80000"/>
<rect x="653" y="497" width="4" height="71" fill="#fff"/>
<rect x="659" y="499" width="5" height="70" fill="#008a00"/>
<rect x="665" y="497" width="6" height="72" fill="#008a00"/>
<rect x="672" y="497" width="5" height="72" fill="#d80000"/>
<rect x="673" y="498" width="3" height="70" fill="#fff"/>
<rect x="678" y="483" width="6" height="86" fill="#d80000"/>
<rect x="679" y="484" width="4" height="84" fill="#fff"/>
<rect x="685" y="504" width="6" height="65" fill="#008a00"/>
<rect x="692" y="493" width="5" height="76" fill="#d80000"/>
<rect x="693" y="494" width="3" height="74" fill="#fff"/>
<rect x="698" y="530" width="6" height="39" fill="#008a00"/>
<rect x="705" y="526" width="5" height="43" fill="#d80000"/>
<rect x="706" y="527" width="3" height="41" fill="#fff"/>
<rect x="711" y="534" width="6" height="35" fill="#008a00"/>
</g>
<polyline points="67.5,500.2 73.5,497.0 80.5,489.9 86.5,487.0 93.5,486.8 99.5,474.2 106.5,455.5 112.5,451.1 119.5,459.9 125.5,460.7 132.5,463.5 138.5,463.3 145.5,467.8 151.5,468.1 158.5,467.9 165.5,478.1 171.5,485.2 178.5,484.2 184.5,483.3 191.5,481.8 197.5,477.9 204.5,474.3 210.5,469.2 217.5,464.9 223.5,463.7 230.5,463.5 236.5,470.3 243.5,477.9 250.5,480.8 256.5,488.0 263.5,492.4 269.5,498.9 276.5,502.2 282.5,506.8 289.5,508.3 295.5,511.0 302.5,511.9 308.5,512.1 315.5,514.5 321.5,514.3 328.5,514.4 334.5,511.3 341.5,515.0 348.5,516.3 354.5,514.2 361.5,513.9 367.5,514.4 374.5,513.4 380.5,513.0 387.5,514.2 393.5,514.1 400.5,517.2 406.5,515.7 413.5,515.5 419.5,518.1 426.5,519.3 432.5,519.1 439.5,520.0 446.5,519.3 452.5,517.4 459.5,519.2 465.5,518.0 472.5,519.5 478.5,521.1 485.5,522.2 491.5,510.0 498.5,500.2 504.5,496.6 511.5,494.1 517.5,491.6 524.5,488.3 530.5,487.6 537.5,484.0 544.5,482.3 550.5,476.3 557.5,487.5 563.5,497.1 570.5,499.8 576.5,500.3 583.5,498.9 589.5,500.5 596.5,499.1 602.5,497.6 609.5,497.1 615.5,494.2 622.5,491.4 629.5,487.9 635.5,484.6 642.5,485.0 648.5,487.2 655.5,485.6 661.5,485.9 668.5,488.1 674.5,486.9 681.5,490.3 687.5,492.0 694.5,493.1 700.5,499.5 707.5,502.4 713.5,506.4" stroke="#cccc00" fill="none" stroke-width="1" shape-rendering="crispEdges"/>
<polyline points="67.5,470.5 73.5,464.5 80.5,459.0 86.5,480.5 93.5,492.7 99.5,474.9 106.5,448.1 112.5,443.9 119.5,440.3 125.5,428.7 132.5,452.1 138.5,478.5 145.5,491.7 151.5,495.9 158.5,507.1 165.5,504.1 171.5,491.9 178.5,476.7 184.5,470.7 191.5,456.5 197.5,451.7 204.5,456.7 210.5,461.7 217.5,459.1 223.5,470.9 230.5,475.3 236.5,483.9 243.5,494.1 250.5,502.5 256.5,505.1 263.5,509.5 269.5,513.9 276.5,510.3 282.5,511.1 289.5,511.5 295.5,512.5 302.5,509.9 308.5,513.9 315.5,517.9 321.5,517.1 328.5,516.3 334.5,512.7 341.5,516.1 348.5,514.7 354.5,511.3 361.5,511.5 367.5,516.1 374.5,510.7 380.5,511.3 387.5,517.1 393.5,516.7 400.5,518.3 406.5,520.7 413.5,519.7 419.5,519.1 426.5,521.9 432.5,519.9 439.5,519.3 446.5,518.9 452.5,515.7 459.5,516.5 465.5,516.1 472.5,519.7 478.5,523.3 485.5,528.7 491.5,503.5 498.5,484.3 504.5,473.5 511.5,464.9 517.5,454.5 524.5,473.1 530.5,490.9 537.5,494.5 544.5,499.7 550.5,498.1 557.5,501.9 563.5,503.3 570.5,505.1 576.5,500.9 583.5,499.7 589.5,499.1 596.5,494.9 602.5,490.1 609.5,493.3 615.5,488.7 622.5,483.7 629.5,480.9 635.5,479.1 642.5,476.7 648.5,485.7 655.5,487.5 661.5,490.9 668.5,497.1 674.5,497.1 681.5,494.9 687.5,496.5 694.5,495.3 700.5,501.9 707.5,507.7 713.5,517.9" stroke="#aa55ff" fill="none" stroke-width="1" shape-rendering="crispEdges"/>
<rect x="384" y="186" width="3" height="40" fill="#ff0000" shape-rendering="crispEdges"/>
<path d="M377 218.5 L384 224.5 L387 224.5 L394 218.5 L385.5 242.5 Z" fill="#ff0000"/>
<text x="8.3" y="23" font-size="19" fill="#999" textLength="66" lengthAdjust="spacingAndGlyphs">300890</text>
<text x="77" y="21" font-size="16" fill="#000" textLength="48" lengthAdjust="spacingAndGlyphs">翔丰华</text>
<text x="385.2" y="19.5" font-size="15" fill="#e00000" xml:space="preserve" textLength="159" lengthAdjust="spacingAndGlyphs">32.08 +0.82 (+2.62%)</text>
<text x="66.2" y="43" font-size="11" fill="#0044a0" textLength="54" lengthAdjust="spacingAndGlyphs">MA5:55.07</text>
<text x="284.2" y="43" font-size="11" fill="#aa55ff" textLength="60" lengthAdjust="spacingAndGlyphs">MA10:53.95</text>
<text x="503.2" y="43" font-size="11" fill="#cccc00" textLength="60" lengthAdjust="spacingAndGlyphs">MA30:55.34</text>
<text x="66.2" y="370" font-size="11" fill="#aa55ff" textLength="72" lengthAdjust="spacingAndGlyphs">MAVOL5:22065</text>
<text x="393.2" y="370" font-size="11" fill="#cccc00" textLength="78" lengthAdjust="spacingAndGlyphs">MAVOL10:28049</text>
<text x="12.7" y="65.6" font-size="11" fill="#d80000" textLength="36" lengthAdjust="spacingAndGlyphs">+60.0%</text>
<text x="721.6" y="65.6" font-size="11" fill="#d80000" textLength="30" lengthAdjust="spacingAndGlyphs">86.34</text>
<text x="12.7" y="102.6" font-size="11" fill="#d80000" textLength="36" lengthAdjust="spacingAndGlyphs">+50.0%</text>
<text x="721.6" y="102.6" font-size="11" fill="#d80000" textLength="30" lengthAdjust="spacingAndGlyphs">80.94</text>
<text x="12.7" y="140.6" font-size="11" fill="#d80000" textLength="36" lengthAdjust="spacingAndGlyphs">+40.0%</text>
<text x="721.6" y="140.6" font-size="11" fill="#d80000" textLength="30" lengthAdjust="spacingAndGlyphs">75.54</text>
<text x="12.7" y="178.6" font-size="11" fill="#d80000" textLength="36" lengthAdjust="spacingAndGlyphs">+30.0%</text>
<text x="721.6" y="178.6" font-size="11" fill="#d80000" textLength="30" lengthAdjust="spacingAndGlyphs">70.15</text>
<text x="12.7" y="215.6" font-size="11" fill="#d80000" textLength="36" lengthAdjust="spacingAndGlyphs">+20.0%</text>
<text x="721.6" y="215.6" font-size="11" fill="#d80000" textLength="30" lengthAdjust="spacingAndGlyphs">64.75</text>
<text x="12.7" y="253.6" font-size="11" fill="#d80000" textLength="36" lengthAdjust="spacingAndGlyphs">+10.0%</text>
<text x="721.6" y="253.6" font-size="11" fill="#d80000" textLength="30" lengthAdjust="spacingAndGlyphs">59.36</text>
<text x="12.7" y="290.6" font-size="11" fill="#000" textLength="30" lengthAdjust="spacingAndGlyphs">+0.0%</text>
<text x="721.6" y="290.6" font-size="11" fill="#000" textLength="30" lengthAdjust="spacingAndGlyphs">53.96</text>
<text x="12.7" y="328.6" font-size="11" fill="#008a00" textLength="36" lengthAdjust="spacingAndGlyphs">-10.0%</text>
<text x="721.6" y="328.6" font-size="11" fill="#008a00" textLength="30" lengthAdjust="spacingAndGlyphs">48.56</text>
<text x="723.4" y="371.6" font-size="11" fill="#000" textLength="36" lengthAdjust="spacingAndGlyphs">100000</text>
<text x="723.4" y="409.6" font-size="11" fill="#000" textLength="30" lengthAdjust="spacingAndGlyphs">80000</text>
<text x="723.4" y="447.6" font-size="11" fill="#000" textLength="30" lengthAdjust="spacingAndGlyphs">60000</text>
<text x="723.4" y="486.6" font-size="11" fill="#000" textLength="30" lengthAdjust="spacingAndGlyphs">40000</text>
<text x="723.4" y="524.6" font-size="11" fill="#000" textLength="30" lengthAdjust="spacingAndGlyphs">20000</text>
<text x="68.3" y="581" font-size="11" fill="#000" textLength="12" lengthAdjust="spacingAndGlyphs">11</text>
<text x="80" y="583" font-size="12" fill="#000">月</text>
<text x="211.3" y="581" font-size="11" fill="#000" textLength="12" lengthAdjust="spacingAndGlyphs">12</text>
<text x="223" y="583" font-size="12" fill="#000">月</text>
<text x="365.3" y="581" font-size="11" fill="#000">1</text>
<text x="371" y="583" font-size="12" fill="#000">月</text>
<text x="489.3" y="581" font-size="11" fill="#000">2</text>
<text x="495" y="583" font-size="12" fill="#000">月</text>
<text x="593.3" y="581" font-size="11" fill="#000">3</text>
<text x="599" y="583" font-size="12" fill="#000">月</text>
<text x="354.9" y="594.6" font-size="11" fill="#ff0000" textLength="24" lengthAdjust="spacingAndGlyphs">2022</text>
<text x="378.8" y="596" font-size="12" fill="#ff0000">年</text>
<text x="335" y="175.5" font-size="18" fill="#ff0000" textLength="98" lengthAdjust="spacing">2022-01-06</text>
</svg>
</body></html>
